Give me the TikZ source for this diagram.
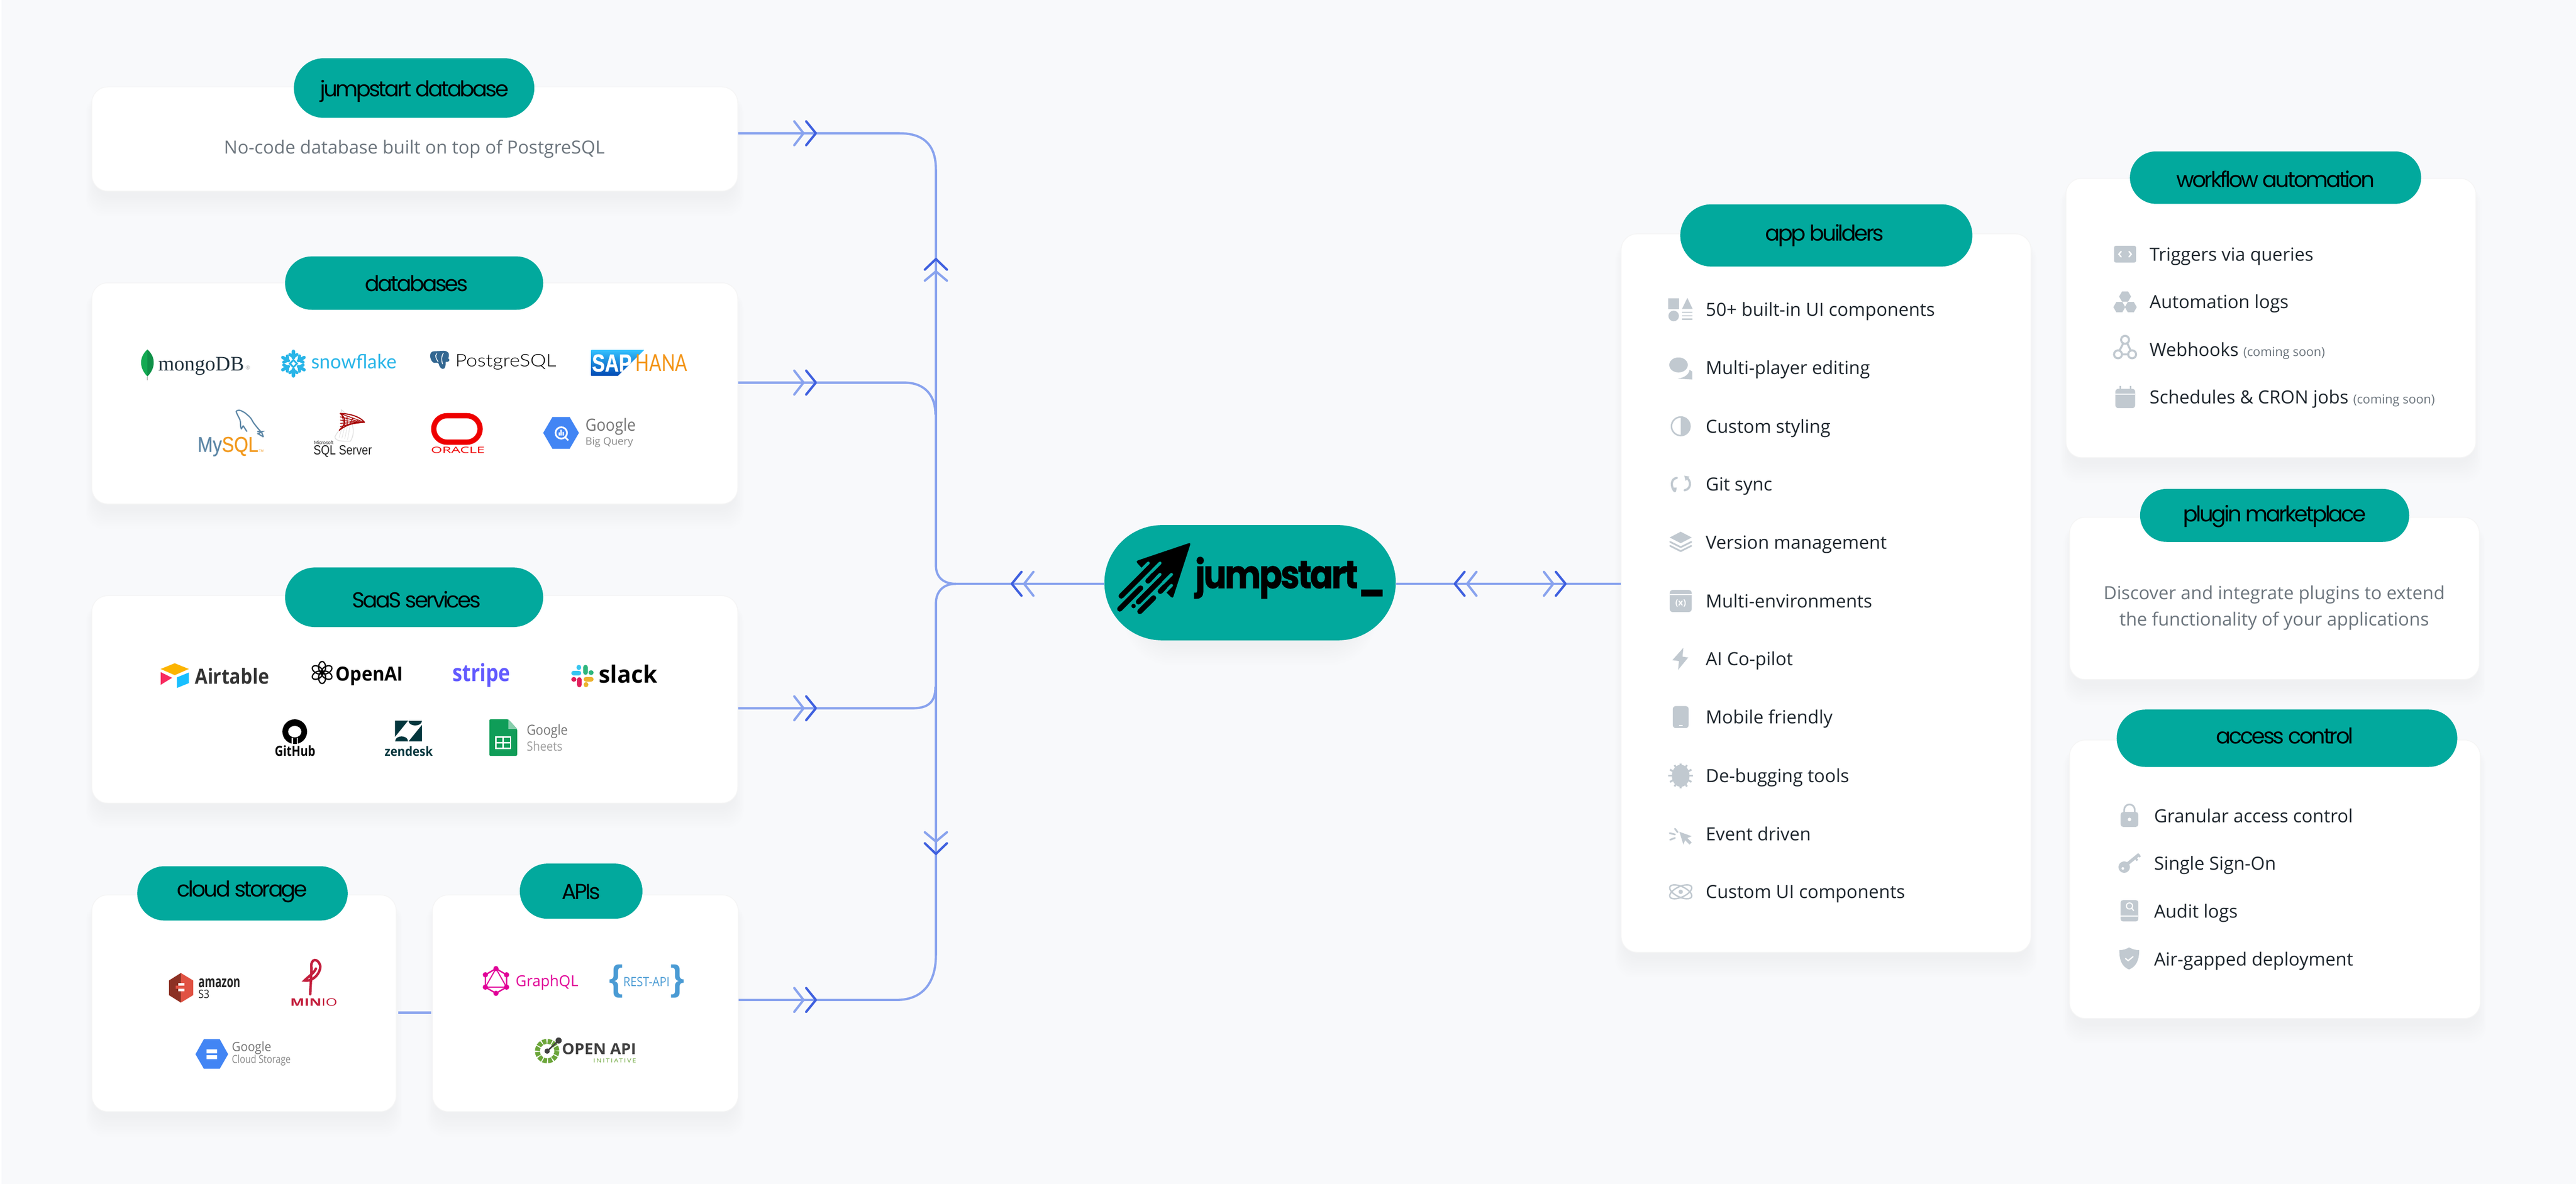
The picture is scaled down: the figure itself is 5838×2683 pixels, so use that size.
\documentclass[tikz,border=0pt]{standalone}
\usepackage{fontspec}
\usepackage{graphicx}
\usetikzlibrary{shapes.misc,shapes.geometric}
\setmainfont{Open Sans}
\newfontfamily\titlef{Poppins}[LetterSpace=-8.5]
\newfontfamily\popb{Poppins}
\newfontfamily\lib{Liberation Sans}
\newfontfamily\ser{Liberation Serif}
\newfontfamily\ope{Open Sans}
\newfontfamily\latol{Lato Light}
\newfontfamily\latom{Lato}
\newlength\pxu \setlength\pxu{0.01cm}
\newcommand\fitw[2]{\resizebox{#1\pxu}{!}{#2}}
\newcommand\fitwh[3]{\resizebox{#1\pxu}{#2\pxu}{#3}}
\definecolor{teal}{HTML}{02A99D}
\definecolor{bgc}{HTML}{F8F9FB}
\definecolor{lin}{HTML}{89A3EE}
\definecolor{dk}{HTML}{3F60DF}
\definecolor{ico}{HTML}{C1C9D0}
\definecolor{itx}{HTML}{1F272E}
\definecolor{gtx}{HTML}{6C757D}
\definecolor{ggl}{HTML}{757575}
\definecolor{snowc}{HTML}{29B5E8}
\definecolor{pinkc}{HTML}{E10098}
\definecolor{restc}{HTML}{4A9BD4}
\definecolor{oagreen}{HTML}{6BA539}
\definecolor{zenc}{HTML}{03363D}
\definecolor{orred}{HTML}{EE0000}
\definecolor{gblue}{HTML}{4285F4}
\definecolor{slb}{HTML}{36C5F0}
\definecolor{slg}{HTML}{2EB67D}
\definecolor{sly}{HTML}{ECB22E}
\definecolor{slr}{HTML}{E01E5A}
\definecolor{mysb}{HTML}{5D87A6}
\definecolor{mredc}{HTML}{C31E3C}
\definecolor{pgblue}{HTML}{336791}
\tikzset{
  cardbox/.style={fill=white,draw=black!4,line width=0.5pt,rounded corners=0.36cm,inner sep=0pt},
  pillbox/.style={fill=teal,rounded rectangle,inner sep=0pt},
  conn/.style={draw=lin,line width=1.45pt},
  chl/.style={draw=lin,line width=1.5pt,line cap=round,line join=round},
  chd/.style={draw=dk,line width=1.5pt,line cap=round,line join=round},
  itemt/.style={font=\fontsize{11.7pt}{13pt}\selectfont,text=itx,anchor=base west,inner sep=0pt},
  titlet/.style={font=\titlef\fontsize{14pt}{17pt}\selectfont,text=black,inner sep=0pt},
  desct/.style={font=\fontsize{11.7pt}{17pt}\selectfont,text=gtx,align=center,inner sep=0pt},
  icl/.style={draw=ico,line width=1.1pt,line cap=round,line join=round},
  logot/.style={inner sep=0pt,anchor=base west},
}
\newcommand\softshadowr[5]{%
  \foreach \s in {1,...,9}{%
    \fill[black,opacity=0.0055,rounded corners=#5]
      ({#1-2.4*\s+8},{#2+18}) rectangle ({#3+2.4*\s-8},{#4+10+5.2*\s});}}
\newcommand\cardnode[5]{%
  \softshadowr{#2}{#3}{#4}{#5}{0.4cm}%
  \node[cardbox,minimum width={(#4-#2)*0.01cm},minimum height={(#5-#3)*0.01cm}] (#1) at ({(#2+#4)/2},{(#3+#5)/2}) {};}
\newcommand\pillnode[5]{%
  \node[pillbox,minimum width={(#4-#2)*0.01cm},minimum height={(#5-#3)*0.01cm}] (#1) at ({(#2+#4)/2},{(#3+#5)/2}) {};}
\newcommand\cheR[2]{%
  \draw[chl] ({#1-49},{#2-27}) -- ({#1-28},#2) -- ({#1-49},{#2+27});
  \draw[chd] ({#1-22},{#2-27}) -- (#1,#2) -- ({#1-22},{#2+27});}
\newcommand\cheL[2]{%
  \draw[chl] ({#1+49},{#2-27}) -- ({#1+28},#2) -- ({#1+49},{#2+27});
  \draw[chd] ({#1+22},{#2-27}) -- (#1,#2) -- ({#1+22},{#2+27});}
\newcommand\cheU[2]{%
  \draw[chl] ({#1-25},{#2+49}) -- (#1,{#2+28}) -- ({#1+25},{#2+49});
  \draw[chd] ({#1-25},{#2+24}) -- (#1,#2) -- ({#1+25},{#2+24});}
\newcommand\cheD[2]{%
  \draw[chl] ({#1-25},{#2-49}) -- (#1,{#2-28}) -- ({#1+25},{#2-49});
  \draw[chd] ({#1-25},{#2-24}) -- (#1,#2) -- ({#1+25},{#2-24});}
\begin{document}
\begin{tikzpicture}[x=0.01cm,y=-0.01cm]
\useasboundingbox (0,0) rectangle (5838,2683);
\fill[white] (0,0) rectangle (5838,2683);
\fill[bgc] (3,0) rectangle (5838,2683);

\coordinate (hub) at (2166,1323);

%% cards
\cardnode{jdb}{208}{197}{1672}{433}
\cardnode{dbs}{208}{641}{1672}{1142}
\cardnode{saas}{208}{1350}{1672}{1820}
\cardnode{cloud}{208}{2028}{898}{2519}
\cardnode{apis}{980}{2028}{1673}{2519}
\cardnode{app}{3674}{530}{4603}{2158}
\cardnode{wf}{4682}{404}{5611}{1037}
\cardnode{plug}{4690}{1172}{5619}{1540}
\cardnode{acc}{4690}{1677}{5621}{2308}

%% main pill
\softshadowr{2560}{1190}{3106}{1451}{1.1cm}
\node[pillbox,minimum width=6.6cm,minimum height=2.61cm] (main) at (2833,1320.5) {};

%% connectors
\coordinate (o1) at (jdb.east |- 0,302);
\coordinate (o2) at (dbs.east |- 0,867);
\coordinate (o3) at (saas.east |- 0,1605);
\coordinate (o4) at (apis.east |- 0,2266);
\draw[conn] (o1) -- (2038,302) .. controls (2095,302) and (2121,330) .. (2121,384) -- (2121,1281) .. controls (2121,1308) and (2138,1323) .. (hub);
\draw[conn] (o2) -- (2049,867) .. controls (2095,867) and (2120,895) .. (2120,940);
\draw[conn] (o3) -- (2068,1605) .. controls (2105,1605) and (2120,1590) .. (2120,1556);
\draw[conn] (o4) -- (2032,2266) .. controls (2090,2266) and (2121,2228) .. (2121,2165) -- (2121,1368) .. controls (2121,1340) and (2138,1323) .. (hub);
\draw[conn] (hub) -- (main.west |- hub);
\draw[conn] (main.east |- hub) -- (app.west |- hub);
\coordinate (cl) at (902,2295);
\coordinate (ap) at (977,2295);
\draw[conn] (cl) -- (ap);

%% chevrons
\cheR{1849}{302}\cheR{1849}{867}\cheR{1849}{1605}\cheR{1849}{2266}
\cheU{2121}{587}\cheD{2121}{1935}
\cheL{2293}{1323}\cheL{3297}{1323}\cheR{3548}{1323}

% rocket, in 3x crop units of the reference
\begin{scope}[shift={(2525,1220)},x=0.01cm/3,y=-0.01cm/3]
  \fill[black,rounded corners=0.05cm] (522,28) -- (146,155) -- (183,197) -- (360,372) -- (398,410) -- cycle;
  \draw[teal,line width=0.067cm,line cap=round] (232,168) -- (186,214);
  \draw[teal,line width=0.067cm,line cap=round] (312,168) -- (232,248);
  \draw[teal,line width=0.067cm,line cap=round] (312,245) -- (270,287);
  \draw[teal,line width=0.067cm,line cap=round] (390,245) -- (310,325);
  \draw[teal,line width=0.067cm,line cap=round] (390,320) -- (346,364);
  \fill[teal] (170,185) -- (370,385) -- (330,430) -- (130,230) -- cycle;
  \begin{scope}[black,line width=0.12cm,line cap=round]
    \draw (240,200) -- (48,392);
    \draw (270,248) -- (230,290);
    \draw (310,287) -- (165,432);
    \draw (345,328) -- (314,360);
    \draw (38,480) -- (180,338);
    \draw (175,497) -- (268,405);
  \end{scope}
  \fill[black] (132,460) circle (15);
\end{scope}
\node[inner sep=0pt,anchor=base west,text=black] (mainlbl) at (2708,1333) {\fitwh{430}{71}{\popb\bfseries\addfontfeature{LetterSpace=-5,FakeBold=1}jumpstart\kern0.01em\_}};

%% pills and titles
\pillnode{p1}{666}{132}{1211}{267}
\pillnode{p2}{646}{581}{1231}{702}
\pillnode{p3}{646}{1286}{1231}{1421}
\pillnode{p4}{311}{1963}{788}{2086}
\pillnode{p5}{1178}{1957}{1456}{2082}
\pillnode{p6}{3808}{463}{4470}{604}
\pillnode{p7}{4827}{343}{5487}{462}
\pillnode{p8}{4850}{1108}{5460}{1228}
\pillnode{p9}{4797}{1608}{5569}{1738}
\node[titlet] (t1) at (939,207) {jumpstart database};
\node[titlet] (t2) at (944,642) {databases};
\node[titlet] (t3) at (944,1359) {SaaS services};
\node[titlet] (t4) at (549,2021) {cloud storage};
\node[titlet] (t5) at (1317,2021) {APIs};
\node[titlet] (t6) at (4135,534) {app builders};
\node[titlet] (t7) at (5157,406) {workflow automation};
\node[titlet] (t8) at (5155,1170) {plugin marketplace};
\node[titlet] (t9) at (5178,1667) {access control};

%% descriptions
\node[desct,anchor=base] (d1) at (939,349) {No-code database built on top of PostgreSQL};
\node[desct] (d2) at (5154,1378) {Discover and integrate plugins to extend\\the functionality of your applications};

%% app-builder items
\foreach \y/\t in {701/50+ built-in UI components,833/Multi-player editing,966/Custom styling,1097/Git sync,1229/Version management,1362/Multi-environments,1493/AI Co-pilot,1625/Mobile friendly,1758/De-bugging tools,1890/Event driven,2021/Custom UI components}
  \node[itemt] at (3865,\y+15) {\t};
%% icons app
\fill[ico] (3781,676) rectangle (3805,700);
\fill[ico] (3824,675) -- (3836,700) -- (3812,700) -- cycle;
\fill[ico] (3793,716) ellipse (12 and 12);
\foreach \y in {708,716,724}\fill[ico] (3812,\y-2) rectangle (3836,\y+1);
\fill[ico] (3804,827) ellipse (21 and 17);
\fill[ico] (3835,860) -- (3802,858) .. controls (3818,856) and (3828,848) .. (3829,838) -- (3835,842) -- cycle;
\draw[ico,line width=1pt] (3809,966) circle (21);
\fill[ico] (3809,945) arc (-90:90:21) -- cycle;
\draw[icl,line width=1.4pt] (3800,1083) .. controls (3785,1085) and (3787,1105) .. (3795,1113);
\draw[icl,line width=1.4pt] (3818,1111) .. controls (3833,1108) and (3833,1090) .. (3823,1083);
\fill[ico] (3790,1105) -- (3800,1105) -- (3798,1115)--cycle;\fill[ico] (3817,1078) -- (3829,1080) -- (3820,1090)--cycle;
\fill[ico] (3809,1205) -- (3834,1218) -- (3809,1231) -- (3784,1218) -- cycle;
\draw[icl] (3785,1228) -- (3809,1240) -- (3833,1228);
\draw[icl] (3785,1237) -- (3809,1249) -- (3833,1237);
\fill[ico,rounded corners=0.07cm] (3784,1337) rectangle (3834,1387);
\draw[white,line width=0.6pt] (3784,1347) -- (3834,1347);
\node[text=white,inner sep=0pt,font=\fontsize{5.5pt}{6pt}\selectfont\bfseries] (xv) at (3809,1367) {(x)};
\fill[ico] (3815,1468) -- (3790,1496) -- (3805,1498) -- (3803,1518) -- (3826,1490) -- (3813,1488) -- cycle;
\fill[ico,rounded corners=0.07cm] (3791,1600) rectangle (3827,1650);
\draw[white,line width=0.8pt] (3805,1644) -- (3813,1644);
\fill[ico] (3809,1758) ellipse (20 and 25);
\foreach \a in {0,30,...,330}\draw[ico,line width=1.2pt] (3809,1758) -- ++(\a:28);
\fill[ico] (3806,1885) -- (3834,1895) -- (3824,1899) -- (3834,1909) -- (3829,1914) -- (3819,1904) -- (3815,1914) -- cycle;
\draw[icl] (3796,1878) -- (3802,1886);\draw[icl] (3784,1888) -- (3796,1891);\draw[icl] (3785,1903) -- (3796,1899);
\draw[ico,line width=0.9pt,rotate around={25:(3809,2021)}] (3809,2021) ellipse (27 and 12);
\draw[ico,line width=0.9pt,rotate around={-25:(3809,2021)}] (3809,2021) ellipse (27 and 12);
\fill[ico] (3809,2021) circle (5);

%% workflow items
\node[itemt] (w1) at (4871,591) {Triggers via queries};
\node[itemt] (w2) at (4871,699) {Automation logs};
\node[itemt] (w3) at (4871,807) {Webhooks {\fontsize{8pt}{8pt}\selectfont\color{gtx}(coming soon)}};
\node[itemt] (w4) at (4871,915) {Schedules \& CRON jobs {\fontsize{8pt}{8pt}\selectfont\color{gtx}(coming soon)}};
\fill[ico,rounded corners=0.04cm] (4791,557) rectangle (4841,595);
\draw[white,line width=0.9pt,line cap=round] (4807,570) -- (4802,576) -- (4807,582);
\draw[white,line width=0.9pt,line cap=round] (4825,570) -- (4830,576) -- (4825,582);
\node[regular polygon,regular polygon sides=6,fill=ico,minimum size=0.27cm,inner sep=0pt] (hx1) at (4816,672) {};
\node[regular polygon,regular polygon sides=6,fill=ico,minimum size=0.27cm,inner sep=0pt] (hx2) at (4803,696) {};
\node[regular polygon,regular polygon sides=6,fill=ico,minimum size=0.27cm,inner sep=0pt] (hx3) at (4829,696) {};
\draw[ico,line width=1.3pt] (4816,770) circle (9) (4800,803) circle (9) (4832,803) circle (9);
\draw[ico,line width=1.3pt] (4812,778) -- (4803,795) (4808,803) -- (4824,803) (4821,778) -- (4829,795);
\fill[ico,rounded corners=0.07cm] (4794,881) rectangle (4839,925);
\draw[ico,line width=1pt] (4805,875) -- (4805,885) (4828,875) -- (4828,885);
\draw[white,line width=0.6pt] (4794,893) -- (4839,893);

%% access items
\node[itemt] (a1) at (4881,1864) {Granular access control};
\node[itemt] (a2) at (4881,1972) {Single Sign-On};
\node[itemt] (a3) at (4881,2080) {Audit logs};
\node[itemt] (a4) at (4881,2189) {Air-gapped deployment};
\fill[ico,rounded corners=0.06cm] (4806,1840) rectangle (4846,1874);
\draw[ico,line width=1.1pt] (4814,1841) -- (4814,1835) arc (180:360:12) -- (4838,1841);
\fill[white] (4826,1857) circle (4);
\fill[ico] (4814,1965) circle (13);
\draw[ico,line width=2pt] (4816,1962) -- (4848,1936);
\draw[ico,line width=1.3pt] (4838,1942) -- (4844,1950) (4846,1936) -- (4850,1942);
\fill[white] (4811,1968) circle (3);
\fill[ico,rounded corners=0.05cm] (4806,2040) rectangle (4846,2088);
\draw[white,line width=0.7pt] (4806,2076) -- (4846,2076);
\draw[white,line width=0.7pt] (4826,2053) circle (7) (4831,2058) -- (4836,2064);
\fill[ico] (4825,2147) .. controls (4835,2152) and (4840,2153) .. (4848,2153) .. controls (4848,2175) and (4842,2190) .. (4825,2197) .. controls (4808,2190) and (4803,2175) .. (4803,2153) .. controls (4811,2153) and (4816,2152) .. (4825,2147) -- cycle;
\draw[white,line width=0.8pt,line cap=round] (4817,2172) -- (4823,2177) -- (4834,2168);

%%%% logos
% mongoDB
\fill[color={rgb,255:red,19;green,170;blue,82}] (334,792) .. controls (354,810) and (352,835) .. (334,853) .. controls (316,835) and (314,810) .. (334,792) -- cycle;
\fill[color={rgb,255:red,15;green,144;blue,72}] (334,792) .. controls (354,810) and (352,835) .. (334,853) -- cycle;
\draw[black!25,line width=0.4pt] (334,853) -- (334,862);
\node[logot] (mongo) at (358,840) {\fitw{195}{\ser\color[HTML]{21313C}mongoDB}};
\node[logot,text=black!35] (mongor) at (556,838) {\fontsize{3.5pt}{4pt}\selectfont ®};
% snowflake
\foreach \a in {0,60,...,300}{
 \draw[snowc,line width=2.1pt,line cap=round] (665,824) ++(\a+30:13) -- ++(\a+30:15);
 \draw[snowc,line width=1.9pt,line cap=round] (665,824) ++(\a+30:15) -- ++(\a+85:10);
 \draw[snowc,line width=1.9pt,line cap=round] (665,824) ++(\a+30:15) -- ++(\a-25:10);
}
\fill[snowc] (665,813) -- (676,824) -- (665,835) -- (654,824) -- cycle;
\fill[white] (665,819) -- (670,824) -- (665,829) -- (660,824) -- cycle;
\node[logot] (snow) at (705,835) {\fitwh{193}{33}{\latom\color{snowc}snowflake}};
% PostgreSQL
\fill[pgblue] (984,796) .. controls (972,796) and (973,812) .. (980,820) .. controls (985,826) and (990,818) .. (994,824) .. controls (996,832) and (1000,836) .. (1004,836) .. controls (1010,836) and (1010,826) .. (1010,820) .. controls (1016,822) and (1022,816) .. (1016,812) .. controls (1020,800) and (1015,795) .. (1005,795) -- cycle;
\draw[white,line width=0.5pt] (990,801) .. controls (984,806) and (990,815) .. (993,820) (1005,800) .. controls (1000,808) and (1000,815) .. (1003,825);
\node[logot] (pg) at (1031,831) {\fitwh{229}{28}{\latol\color{black}PostgreSQL}};
% SAP HANA
\path[top color=cyan!70!blue!80,bottom color=blue!60!cyan!70!black]
  (1340,793) -- (1460,793) -- (1400,852) -- (1340,852) -- cycle;
\node[logot,text=white] (sap) at (1341,842) {\fitwh{90}{39}{\lib\bfseries\addfontfeature{FakeBold=1}SAP}};
\node[logot] (hana) at (1440,841) {\fitwh{117}{38}{\latom\color[HTML]{F39416}HANA}};
% MySQL
\draw[mysb,line width=0.8pt,line join=round] (535,932) .. controls (540,928) and (545,930) .. (549,932) .. controls (556,935) and (560,940) .. (564,943) .. controls (570,948) and (572,955) .. (576,960) .. controls (582,968) and (588,975) .. (593,980) -- (597,990);
\draw[mysb,line width=0.8pt,line join=round] (535,932) .. controls (538,942) and (545,950) .. (545,957) .. controls (545,962) and (545,968) .. (547,972) -- (551,965) .. controls (555,970) and (557,975) .. (560,978);
\draw[mysb,line width=0.8pt] (583,978) -- (595,978) -- (585,983) -- (597,990);
\node[logot] (mysql) at (447,1024) {\fitwh{138}{34}{\lib\addfontfeature{FakeBold=0.5}\color{mysb}My\color[HTML]{F29A1F}SQL}};
\node[logot,text={rgb,255:red,242;green,154;blue,31}] (mysqltm) at (586,1024) {\fitw{11}{\lib TM}};
% SQL Server
\draw[black!12,line width=0.5pt] (773,928) .. controls (795,945) and (810,975) .. (794,1000) .. controls (775,1000) and (760,1000) .. (759,990) .. controls (765,975) and (785,965) .. (773,928);
\foreach \a in {0.2,0.4,0.6,0.8}{
  \draw[black!12,line width=0.3pt] ({762+\a*32},{990+\a*8}) -- ({768+\a*32},{975-\a*15});
}
\foreach \a in {0,0.25,0.5,0.75,1}{
  \draw[red!65!black,line width=0.45pt] ({774+\a*50},{938+\a*19}) -- ({782+\a*20},{966-\a*6});
  \draw[red!65!black,line width=0.45pt] (771,{937+\a*30}) -- ({826-\a*20},957);
}
\draw[red!65!black,line width=0.7pt,line join=round] (771,937) .. controls (790,937) and (815,943) .. (826,957) .. controls (805,957) and (785,962) .. (769,975) .. controls (785,960) and (785,948) .. (771,937) -- cycle;
\node[logot,text=black!80] (ms) at (711,1007) {\fitwh{44}{8}{\lib Microsoft}};
\node[logot,text=black!85] (sqls) at (710,1030) {\fitwh{132}{21}{\lib SQL Server}};
% Oracle
\draw[orred,line width=3.4pt,rounded corners=0.3cm] (983,942) rectangle (1088,1002);
\node[logot,text=orred] (orc) at (976,1027) {\fitwh{122}{14}{\ope ORACLE}};
% BigQuery
\fill[gblue] (1231,981) -- (1252,945) -- (1291,945) -- (1312,981) -- (1291,1017) -- (1252,1017) -- cycle;
\draw[white,line width=1.1pt] (1272,981) circle (13) (1281,991) -- (1288,998);
\fill[white] (1266,980) rectangle (1269,987) (1270,974) rectangle (1273,987) (1275,979) rectangle (1278,987);
\node[logot,text=ggl] (gbq1) at (1326,977) {\fitwh{114}{29}{\ope Google}};
\node[logot,text=ggl!85] (gbq2) at (1326,1008) {\fitwh{108}{17}{\ope Big Query}};

% Airtable
\fill[color={rgb,255:red,252;green,180;blue,0}] (396,1503) -- (428,1516) -- (396,1530) -- (364,1516) -- cycle;
\fill[color={rgb,255:red,24;green,191;blue,255}] (401,1535) -- (428,1524) -- (428,1548) -- (401,1559) -- cycle;
\fill[color={rgb,255:red,248;green,43;blue,96}] (364,1523) -- (390,1536) -- (364,1552) -- cycle;
\node[logot,text=black!80] (air) at (441,1550) {\fitwh{168}{36}{\ope\bfseries Airtable}};
% OpenAI
\foreach \a in {0,60,...,300}
  \draw[black,line width=0.8pt,rotate around={\a:(730,1524)}] (730,1512) ellipse (8 and 13);
\node[logot,text=black] (oai) at (760,1543) {\fitwh{153}{32}{\ope\bfseries OpenAI}};
% Stripe
\node[logot] (stripe) at (1025,1544) {\fitwh{131}{41}{\ope\bfseries\color[HTML]{635BFF}stripe}};
% Slack
\draw[slb,line width=3pt,line cap=round] (1312,1525) -- (1300,1525) (1312,1512) -- (1312,1513);
\draw[slg,line width=3pt,line cap=round] (1327,1524) -- (1327,1512) (1340,1524) -- (1339,1524);
\draw[sly,line width=3pt,line cap=round] (1328,1539) -- (1340,1539) (1328,1552) -- (1328,1551);
\draw[slr,line width=3pt,line cap=round] (1313,1540) -- (1313,1552) (1300,1540) -- (1301,1540);
\node[logot,text=black] (slack) at (1357,1548) {\fitwh{132}{41}{\ope\bfseries slack}};
% GitHub
\fill[black] (668,1658) circle (28);
\fill[white] (668,1658) ellipse (15 and 13);
\fill[white] (661,1672) rectangle (675,1686);
\fill[black] (664,1672) rectangle (672,1686);
\node[logot,text=black] (gh) at (622,1713) {\fitwh{92}{24}{\ope\bfseries GitHub}};
% Zendesk
\fill[zenc] (895,1633) -- (925,1633) -- (895,1670) -- cycle;
\fill[zenc] (926,1680) -- (956,1680) -- (956,1643) -- cycle;
\fill[zenc] (895,1680) .. controls (895,1665) and (925,1665) .. (925,1680) -- cycle;
\fill[zenc] (926,1633) .. controls (926,1648) and (956,1648) .. (956,1633) -- cycle;
\node[logot,text=zenc] (zd) at (871,1713) {\fitwh{109}{22}{\ope\bfseries zendesk}};
% Google Sheets
\fill[color={rgb,255:red,15;green,157;blue,88},rounded corners=0.03cm] (1109,1630) -- (1152,1630) -- (1172,1652) -- (1172,1713) -- (1109,1713) -- cycle;
\fill[color={rgb,255:red,135;green,206;blue,172}] (1152,1630) -- (1172,1652) -- (1152,1652) -- cycle;
\draw[white,line width=0.8pt] (1124,1670) rectangle (1157,1696) (1124,1683) -- (1157,1683) (1140,1670) -- (1140,1696);
\node[logot,text=ggl] (gs1) at (1193,1665) {\fitwh{93}{24}{\ope Google}};
\node[logot,text=ggl!70] (gs2) at (1193,1702) {\fitwh{81}{22}{\ope Sheets}};
% Amazon S3
\fill[color={rgb,255:red,224;green,82;blue,67}] (410,2205) -- (438,2222) -- (438,2255) -- (410,2272) -- (383,2255) -- (383,2222) -- cycle;
\fill[color={rgb,255:red,140;green,49;blue,36}] (410,2205) -- (410,2272) -- (383,2255) -- (383,2222) -- cycle;
\fill[white] (404,2228) rectangle (418,2246);
\fill[color={rgb,255:red,224;green,82;blue,67}] (398,2233) rectangle (423,2241);
\node[logot,text=black!85] (amz) at (449,2238) {\fitwh{95}{20}{\ope\bfseries amazon}};
\node[logot,text=black!85] (s3) at (449,2262) {\fitwh{25}{19}{\ope S3}};
% MinIO
\draw[mredc,line width=1.6pt,line cap=round] (703,2253) -- (706,2195) .. controls (702,2170) and (722,2170) .. (726,2190) .. controls (726,2205) and (710,2225) .. (690,2222) .. controls (700,2212) and (712,2205) .. (716,2195);
\node[logot] (minio) at (657,2280) {\fitwh{107}{17}{\ope\bfseries\color{mredc}MIN\mdseries IO}};
% Google Cloud Storage
\fill[gblue] (443,2389) -- (462,2355) -- (498,2355) -- (517,2389) -- (498,2422) -- (462,2422) -- cycle;
\fill[white] (468,2378) rectangle (492,2387) (468,2391) rectangle (492,2400);
\node[logot,text=ggl] (gc1) at (525,2383) {\fitwh{89}{22}{\ope Google}};
\node[logot,text=ggl!85] (gc2) at (525,2409) {\fitwh{133}{19}{\ope Cloud Storage}};
% GraphQL
\draw[pinkc,line width=0.9pt] (1124,2195) -- (1148,2209) -- (1148,2237) -- (1124,2251) -- (1100,2237) -- (1100,2209) -- cycle;
\draw[pinkc,line width=0.7pt] (1124,2195) -- (1148,2237) -- (1100,2237) -- cycle;
\foreach \p in {(1124,2195),(1148,2209),(1148,2237),(1124,2251),(1100,2237),(1100,2209)}
  \fill[pinkc] \p circle (6);
\node[logot] (gql) at (1168,2235) {\fitwh{142}{26}{\ope\color{pinkc}GraphQL}};
% REST API
\node[inner sep=0pt,text=restc] (brl) at (1396,2224) {\fontsize{23pt}{23pt}\selectfont\lib\bfseries\{};
\node[inner sep=0pt,text=restc] (brr) at (1535,2224) {\fontsize{23pt}{23pt}\selectfont\lib\bfseries\}};
\node[logot,text=restc] (rst) at (1412,2235) {\fitwh{105}{21}{\ope REST-API}};
% OpenAPI
\draw[oagreen,line width=3.2pt,dash pattern=on 2.6pt off 0.7pt] (1240,2382) circle (22);
\draw[black!75,line width=1pt] (1240,2382) -- (1266,2358);
\fill[black!75] (1266,2358) circle (7) (1240,2382) circle (6);
\node[logot,text=black!75] (oap) at (1273,2390) {\fitwh{168}{25}{\ope\bfseries OPEN API}};
\node[logot,text=oagreen] (oap2) at (1344,2408) {\fitwh{97}{9}{\ope\addfontfeature{LetterSpace=18}INITIATIVE}};
\end{tikzpicture}
\end{document}
